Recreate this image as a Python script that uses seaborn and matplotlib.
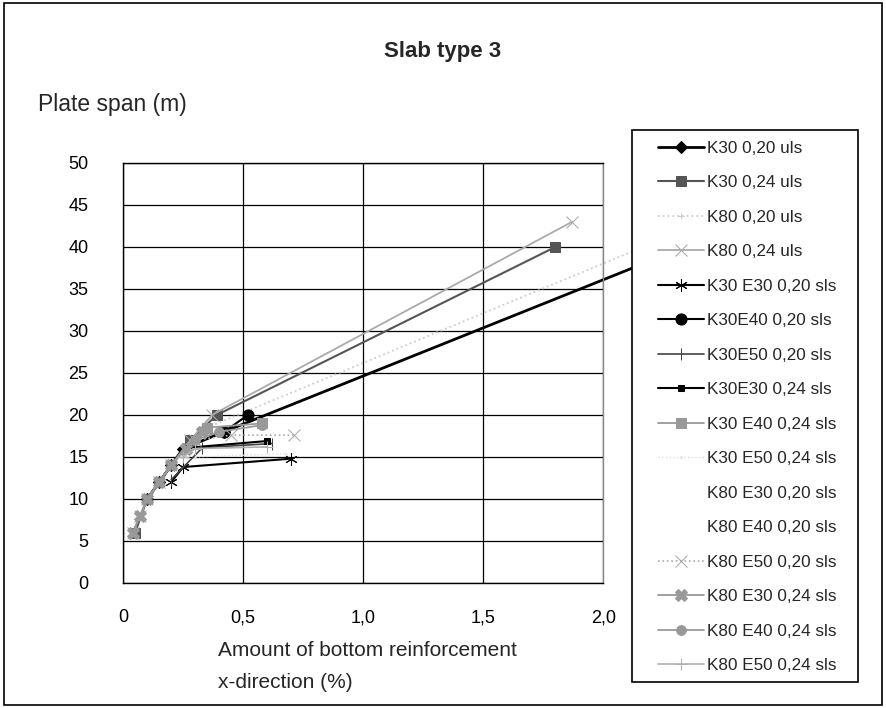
import matplotlib
matplotlib.use("Agg")
import matplotlib.pyplot as plt
import seaborn as sns
from matplotlib.patches import Rectangle
from matplotlib.ticker import FixedLocator, FixedFormatter

sns.set_theme(style="white")
plt.rcParams['font.family'] = ['Liberation Sans', 'DejaVu Sans']

# ---- data ----
labels = ["K30 0,20 uls", "K30 0,24 uls", "K80 0,20 uls", "K80 0,24 uls",
          "K30 E30 0,20 sls", "K30E40 0,20 sls", "K30E50 0,20 sls", "K30E30 0,24 sls",
          "K30 E40 0,24 sls", "K30 E50 0,24 sls", "K80 E30 0,20 sls", "K80 E40 0,20 sls",
          "K80 E50 0,20 sls", "K80 E30 0,24 sls", "K80 E40 0,24 sls", "K80 E50 0,24 sls"]

x_k30_020_uls = [0.10, 0.15, 0.20, 0.25, 0.42, 2.34]
y_k30_020_uls = [10, 12, 14, 16, 18, 40]
x_k30_024_uls = [0.05, 0.10, 0.15, 0.20, 0.28, 0.39, 1.80]
y_k30_024_uls = [6, 10, 12, 14, 17, 20, 40]
x_k80_020_uls = [0.04, 0.10, 0.20, 0.35, 2.25]
y_k80_020_uls = [6, 10, 14, 18.5, 41]
x_k80_024_uls = [0.04, 0.07, 0.10, 0.15, 0.20, 0.28, 0.37, 1.87]
y_k80_024_uls = [6, 8, 10, 12, 14, 17, 20, 43]
x_k30e30_020 = [0.20, 0.25, 0.70]
y_k30e30_020 = [12, 13.8, 14.8]
x_k30e40_020 = [0.42, 0.52]
y_k30e40_020 = [18, 20]
x_k30e50_020 = [0.20, 0.33, 0.62]
y_k30e50_020 = [12.3, 16.1, 16.6]
x_k30e30_024 = [0.27, 0.60]
y_k30e30_024 = [16.1, 16.9]
x_k30e40_024 = [0.35, 0.58]
y_k30e40_024 = [18.5, 19.0]
x_k30e50_024 = [0.30, 0.68]
y_k30e50_024 = [15.0, 15.4]
x_k80e30_020 = [0.30, 0.60]
y_k80e30_020 = [15.5, 16.0]
x_k80e40_020 = [0.30, 0.60]
y_k80e40_020 = [16.0, 16.5]
x_k80e50_020 = [0.30, 0.45, 0.71]
y_k80e50_020 = [17.0, 17.6, 17.6]
x_k80e30_024 = [0.04, 0.07, 0.10, 0.15, 0.20, 0.26, 0.33]
y_k80e30_024 = [6, 8, 10, 12, 14, 16, 18]
x_k80e40_024 = [0.30, 0.40, 0.58]
y_k80e40_024 = [17.0, 18.0, 18.8]
x_k80e50_024 = [0.25, 0.30, 0.60]
y_k80e50_024 = [15.0, 16.0, 16.2]

xs = [x_k30_020_uls, x_k30_024_uls, x_k80_020_uls, x_k80_024_uls, x_k30e30_020,
      x_k30e40_020, x_k30e50_020, x_k30e30_024, x_k30e40_024, x_k30e50_024,
      x_k80e30_020, x_k80e40_020, x_k80e50_020, x_k80e30_024, x_k80e40_024, x_k80e50_024]
ys = [y_k30_020_uls, y_k30_024_uls, y_k80_020_uls, y_k80_024_uls, y_k30e30_020,
      y_k30e40_020, y_k30e50_020, y_k30e30_024, y_k30e40_024, y_k30e50_024,
      y_k80e30_020, y_k80e40_020, y_k80e50_020, y_k80e30_024, y_k80e40_024, y_k80e50_024]

x_ticks = [0, 0.5, 1.0, 1.5, 2.0]
x_ticklabels = ["0", "0,5", "1,0", "1,5", "2,0"]
y_ticks = [0, 5, 10, 15, 20, 25, 30, 35, 40, 45, 50]

# ---- styles ----
styles = [
    dict(color="black", marker="D", ms=6, lw=2.0, ls="-"),
    dict(color="#555555", marker="s", ms=7, lw=1.5, ls="-"),
    dict(color="#cccccc", marker="+", ms=5, lw=1.3, ls=":"),
    dict(color="#aaaaaa", marker="x", ms=8, lw=1.3, ls="-"),
    dict(color="black", marker=(6, 2, 0), ms=9, lw=1.5, ls="-"),
    dict(color="black", marker="o", ms=8, lw=1.5, ls="-"),
    dict(color="#444444", marker="|", ms=9, lw=1.2, ls="-"),
    dict(color="black", marker="s", ms=4, lw=1.5, ls="-"),
    dict(color="#999999", marker="s", ms=7, lw=1.3, ls="-"),
    dict(color="#dddddd", marker=".", ms=2, lw=1.0, ls=":"),
    dict(color="white", marker=None, ms=0, lw=1.0, ls="-"),
    dict(color="white", marker=None, ms=0, lw=1.0, ls="-"),
    dict(color="#aaaaaa", marker="x", ms=8, lw=1.2, ls=":"),
    dict(color="#999999", marker="X", ms=8, lw=1.3, ls="-"),
    dict(color="#999999", marker="o", ms=7, lw=1.3, ls="-"),
    dict(color="#b0b0b0", marker="+", ms=8, lw=1.2, ls="-"),
]

fig = plt.figure(figsize=(8.86, 7.08), dpi=100)
fig.patch.set_facecolor("white")
ax = fig.add_axes([0.139, 0.1766, 0.542, 0.5932])

for lab, x, y, st in zip(labels, xs, ys, styles):
    z = 0.5 if st["color"] == "white" else 2
    sns.lineplot(x=x, y=y, ax=ax, sort=False, label=lab, color=st["color"],
                 marker=st["marker"], markersize=st["ms"], linewidth=st["lw"],
                 linestyle=st["ls"], markeredgecolor=st["color"], clip_on=False,
                 zorder=z)

ax.set_xlim(0, 2.0)
ax.set_ylim(0, 50)
ax.xaxis.set_major_locator(FixedLocator(x_ticks))
ax.xaxis.set_major_formatter(FixedFormatter(x_ticklabels))
ax.set_yticks(y_ticks)
ax.grid(True, color="black", linewidth=0.9)
ax.set_axisbelow(True)
for s in ax.spines.values():
    s.set_color("black")
    s.set_linewidth(1.0)
ax.spines["right"].set_color("#888888")
ax.tick_params(axis="both", direction="out", length=5, width=1, color="black",
               labelsize=13, labelcolor="black")
ax.tick_params(axis="y", pad=20)
ax.tick_params(axis="x", pad=14)
ax.set_xlabel("")
ax.set_ylabel("")

handles, hlabels = ax.get_legend_handles_labels()
ax.get_legend().remove()

# legend box (drawn above the lines that run past x = 2.0)
fig.patches.append(Rectangle((632 / 886, 1 - 682 / 708), 226 / 886, 552 / 708,
                             transform=fig.transFigure, facecolor="white",
                             edgecolor="black", linewidth=1.2, zorder=1))
leg = fig.legend(handles, hlabels, loc="upper left",
                 bbox_to_anchor=(658 / 886, 1 - 141 / 708),
                 bbox_transform=fig.transFigure, frameon=False, fontsize=12.3,
                 handlelength=2.7, handletextpad=0.15, labelspacing=1.14,
                 borderpad=0, borderaxespad=0)
leg.set_zorder(5)

fig.text(0.5, 1 - 52 / 708, "Slab type 3", ha="center", va="center",
         fontsize=16, fontweight="bold")
fig.text(38 / 886, 1 - 105 / 708, "Plate span (m)", ha="left", va="center",
         fontsize=16.5)
fig.text(218 / 886, 1 - 650 / 708, "Amount of bottom reinforcement", ha="left",
         va="center", fontsize=15)
fig.text(218 / 886, 1 - 683 / 708, "x-direction (%)", ha="left", va="center",
         fontsize=15)

fig.patches.append(Rectangle((0.004, 0.004), 0.992, 0.992, transform=fig.transFigure,
                             fill=False, edgecolor="black", linewidth=1.2, zorder=1))

fig.savefig("out.png", dpi=100)
